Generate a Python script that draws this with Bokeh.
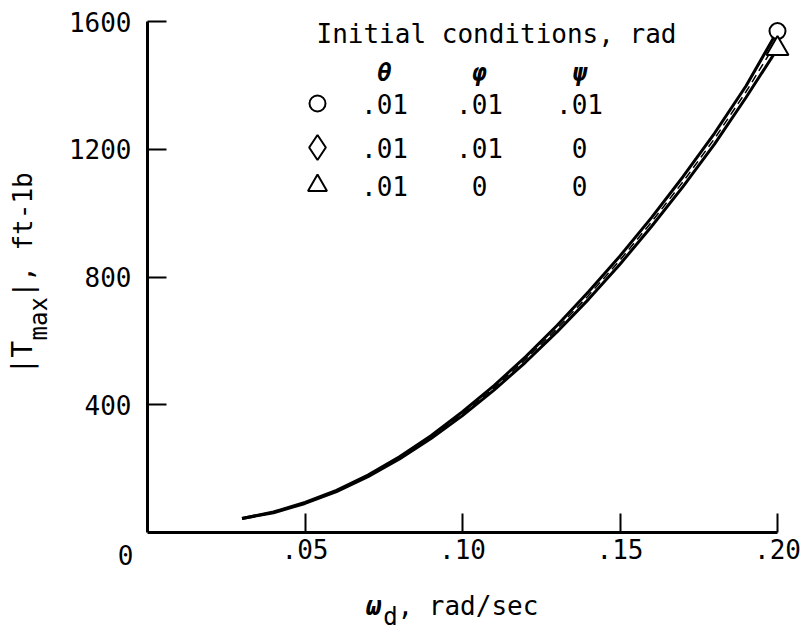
import math
from bokeh.plotting import figure
from bokeh.models import Range1d, FixedTicker, Label
from bokeh.embed import file_html
from bokeh.resources import INLINE

# ---------------- data ----------------
omega = [0.03, 0.04, 0.05, 0.06, 0.07, 0.08, 0.09, 0.10, 0.11, 0.12,
         0.13, 0.14, 0.15, 0.16, 0.17, 0.18, 0.19, 0.20]
t_circle = [44, 64, 94, 132, 180, 237, 303, 378, 460, 550,
            648, 754, 866, 986, 1114, 1250, 1398, 1570]
t_diamond = [44, 63, 93, 130, 178, 234, 299, 372, 453, 542,
             638, 742, 853, 972, 1098, 1233, 1380, 1540]
t_triangle = [44, 62, 91, 128, 175, 230, 294, 366, 446, 533,
              628, 730, 840, 958, 1083, 1216, 1362, 1515]

x_ticks = [0.05, 0.10, 0.15, 0.20]
x_tick_labels = [".05", ".10", ".15", ".20"]
y_ticks = [400, 800, 1200, 1600]
y_tick_labels = ["400", "800", "1200", "1600"]

legend_title = "Initial conditions, rad"
legend_headers = ["θ", "φ", "ψ"]
legend_rows = [[".01", ".01", ".01"], [".01", ".01", "0"], [".01", "0", "0"]]
legend_markers = ["circle", "diamond", "triangle"]

FONT = "DejaVu Sans Mono"

# ---------------- layout (pixels) ----------------
W, H = 805, 642
PX_X0, PX_X20 = 147, 777                  # x=0 and x=0.20
PX_Y0, PX_Y1600 = 532, 21                 # y=0 and y=1600
sx = (PX_X20 - PX_X0) / 0.20
sy = (PX_Y0 - PX_Y1600) / 1600.0


def dx(px):
    return (px - PX_X0) / sx


def dy(py):
    return (PX_Y0 - py) / sy


# frame fills the whole canvas; axes are pinned at x=0 / y=0
p = figure(width=W, height=H, output_backend="svg", toolbar_location=None,
           x_range=Range1d(dx(0), dx(W)), y_range=Range1d(dy(H), dy(0)),
           min_border=0)
p.xgrid.visible = False
p.ygrid.visible = False
p.outline_line_color = None
p.background_fill_color = "white"
p.border_fill_color = "white"

for ax, ticks, labels, bnds, standoff in (
        (p.xaxis, x_ticks, x_tick_labels, (0, 0.20), 6),
        (p.yaxis, y_ticks, y_tick_labels, (0, 1600), 16)):
    ax.fixed_location = 0
    ax.ticker = FixedTicker(ticks=ticks)
    ax.major_label_overrides = {t: l for t, l in zip(ticks, labels)}
    ax.bounds = bnds
    ax.axis_line_width = 3
    ax.axis_line_color = "black"
    ax.major_tick_line_width = 2
    ax.major_tick_line_color = "black"
    ax.major_tick_in = 19
    ax.major_tick_out = 0
    ax.minor_tick_line_color = None
    ax.major_label_text_font = FONT
    ax.major_label_text_font_size = "26px"
    ax.major_label_text_color = "black"
    ax.major_label_standoff = standoff
    ax.axis_label = None

# curves
p.line(omega, t_circle, line_color="black", line_width=3)
p.line(omega, t_triangle, line_color="black", line_width=3)
p.line(omega, t_diamond, line_color="black", line_width=1.5, line_dash="8 5")

# end markers
p.scatter([omega[-1]], [t_circle[-1]], marker="circle", size=16,
          fill_color="white", line_color="black", line_width=2)
p.scatter([omega[-1]], [t_triangle[-1]], marker="triangle", size=22,
          fill_color="white", line_color="black", line_width=2)


def lab(txt, px, py, size="26px", align="left", baseline="middle",
        style="normal", angle=0.0):
    p.add_layout(Label(x=dx(px), y=dy(py), text=txt, text_font=FONT,
                       text_font_size=size, text_align=align,
                       text_baseline=baseline, text_font_style=style,
                       text_color="black", angle=angle))


# corner "0"
lab("0", 125, 554, align="center")

# x axis title: omega_d, rad/sec
lab("ω", 373, 605, size="26px", align="center", style="bold italic")
lab("d", 390, 616, size="24px", align="center")
lab(", rad/sec", 397, 605, size="26px", align="left")

# y axis title: |T_max|, ft-1b (rotated)
ang = math.pi / 2
lab("|T", 22, 374, size="28px", align="left", baseline="alphabetic", angle=ang)
lab("max", 38, 340, size="24px", align="left", baseline="alphabetic", angle=ang)
lab("|, ft-1b", 22, 297, size="26px", align="left", baseline="alphabetic", angle=ang)

# legend block
lab(legend_title, 316, 33, align="left")
col_x = [384, 479, 579]
for hx, h in zip(col_x, legend_headers):
    lab(h, hx, 72, size="24px", align="center", style="bold italic")
row_y = [103, 147, 185]
for ry, vals in zip(row_y, legend_rows):
    for cx, v in zip(col_x, vals):
        lab(v, cx, ry, align="center")
p.scatter([dx(317)] * 3, [dy(y) for y in row_y], marker=legend_markers,
          size=[16, 25, 19], fill_color="white", line_color="black", line_width=2)

open("out.html", "w").write(file_html(p, INLINE))
